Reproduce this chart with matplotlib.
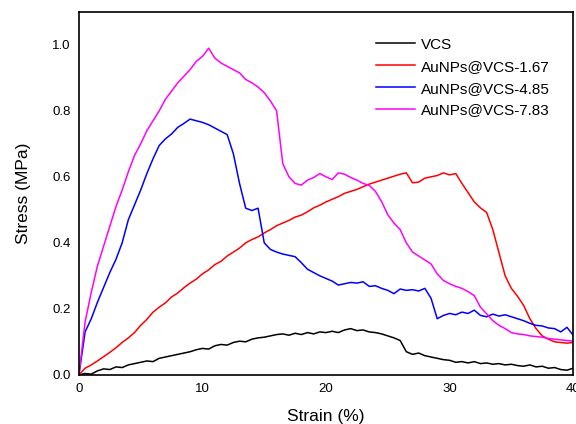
"""Stress-strain curves for VCS and AuNPs@VCS samples."""

import matplotlib
matplotlib.use("Agg")
import matplotlib.pyplot as plt
import numpy as np

plt.rcParams["font.family"] = ["Liberation Sans", "DejaVu Sans"]

# strain sampled every 0.5 %
strain = np.linspace(0, 40, 81)

vcs = [
    0.000, 0.004, 0.002, 0.012, 0.018, 0.016, 0.024, 0.022, 0.030, 0.034,
    0.038, 0.042, 0.040, 0.050, 0.054, 0.058, 0.062, 0.066, 0.070, 0.076,
    0.080, 0.078, 0.088, 0.092, 0.090, 0.098, 0.102, 0.100, 0.108, 0.112,
    0.114, 0.118, 0.122, 0.124, 0.120, 0.126, 0.122, 0.128, 0.124, 0.130,
    0.128, 0.132, 0.128, 0.136, 0.140, 0.134, 0.136, 0.130, 0.128, 0.124,
    0.118, 0.112, 0.104, 0.070, 0.062, 0.066, 0.058, 0.054, 0.050, 0.046,
    0.044, 0.038, 0.040, 0.036, 0.040, 0.034, 0.036, 0.032, 0.034, 0.030,
    0.032, 0.028, 0.026, 0.030, 0.024, 0.026, 0.020, 0.022, 0.016, 0.014,
    0.020,
]

au_167 = [
    0.000, 0.020, 0.030, 0.042, 0.055, 0.068, 0.082, 0.098, 0.112, 0.128,
    0.150, 0.168, 0.190, 0.205, 0.218, 0.236, 0.248, 0.264, 0.278, 0.290,
    0.306, 0.318, 0.334, 0.344, 0.360, 0.372, 0.384, 0.400, 0.410, 0.418,
    0.430, 0.440, 0.452, 0.460, 0.468, 0.478, 0.484, 0.494, 0.506, 0.514,
    0.524, 0.532, 0.540, 0.550, 0.556, 0.562, 0.570, 0.578, 0.584, 0.590,
    0.596, 0.602, 0.608, 0.612, 0.582, 0.584, 0.596, 0.600, 0.604, 0.612,
    0.606, 0.610, 0.580, 0.552, 0.524, 0.506, 0.492, 0.440, 0.370, 0.300,
    0.262, 0.238, 0.210, 0.170, 0.140, 0.118, 0.108, 0.100, 0.098, 0.096,
    0.098,
]

au_485 = [
    0.000, 0.130, 0.170, 0.220, 0.265, 0.310, 0.350, 0.400, 0.470, 0.515,
    0.560, 0.610, 0.655, 0.695, 0.715, 0.730, 0.750, 0.762, 0.775, 0.770,
    0.765, 0.758, 0.748, 0.738, 0.728, 0.670, 0.580, 0.505, 0.498, 0.505,
    0.400, 0.380, 0.372, 0.366, 0.362, 0.358, 0.340, 0.320, 0.310, 0.300,
    0.292, 0.284, 0.272, 0.276, 0.280, 0.278, 0.282, 0.268, 0.270, 0.262,
    0.256, 0.246, 0.260, 0.256, 0.258, 0.254, 0.262, 0.232, 0.170, 0.180,
    0.186, 0.182, 0.190, 0.186, 0.196, 0.180, 0.176, 0.184, 0.178, 0.182,
    0.176, 0.170, 0.164, 0.156, 0.150, 0.148, 0.142, 0.140, 0.130, 0.144,
    0.120,
]

au_783 = [
    0.000, 0.160, 0.250, 0.330, 0.390, 0.450, 0.510, 0.560, 0.615, 0.665,
    0.700, 0.740, 0.770, 0.800, 0.835, 0.860, 0.885, 0.905, 0.925, 0.950,
    0.965, 0.990, 0.960, 0.945, 0.935, 0.925, 0.915, 0.895, 0.885, 0.872,
    0.855, 0.830, 0.800, 0.640, 0.600, 0.580, 0.575, 0.590, 0.598, 0.610,
    0.600, 0.592, 0.612, 0.608, 0.598, 0.590, 0.580, 0.574, 0.556, 0.525,
    0.485, 0.460, 0.440, 0.400, 0.372, 0.360, 0.348, 0.336, 0.306, 0.286,
    0.276, 0.268, 0.262, 0.252, 0.240, 0.205, 0.185, 0.164, 0.150, 0.140,
    0.128, 0.124, 0.122, 0.118, 0.116, 0.114, 0.110, 0.108, 0.106, 0.104,
    0.102,
]

labels = ["VCS", "AuNPs@VCS-1.67", "AuNPs@VCS-4.85", "AuNPs@VCS-7.83"]
colors = ["black", "#ff0000", "#0000ff", "#ff00ff"]


def main() -> None:
    fig = plt.figure(figsize=(5.76, 4.24), dpi=100)
    ax = fig.add_axes([0.137, 0.116, 0.858, 0.856])

    for y, label, color in zip([vcs, au_167, au_485, au_783], labels, colors):
        ax.plot(strain, y, color=color, lw=1.1, label=label)

    ax.set_xlim(0, 40)
    ax.set_ylim(0, 1.1)
    ax.set_xticks([0, 10, 20, 30, 40])
    ax.set_yticks([0.0, 0.2, 0.4, 0.6, 0.8, 1.0])
    ax.set_yticklabels(["0.0", "0.2", "0.4", "0.6", "0.8", "1.0"])
    ax.tick_params(length=0, labelsize=9.5, pad=6)
    for spine in ax.spines.values():
        spine.set_linewidth(1.2)

    ax.set_xlabel("Strain (%)", fontsize=12.5, labelpad=10)
    ax.set_ylabel("Stress (MPa)", fontsize=12.5, labelpad=15)

    ax.legend(loc="upper left", bbox_to_anchor=(0.585, 0.95), frameon=False,
              fontsize=11, handlelength=2.6, handletextpad=0.35,
              labelspacing=0.52, borderpad=0)

    fig.savefig("out.png", dpi=100)


if __name__ == "__main__":
    main()
